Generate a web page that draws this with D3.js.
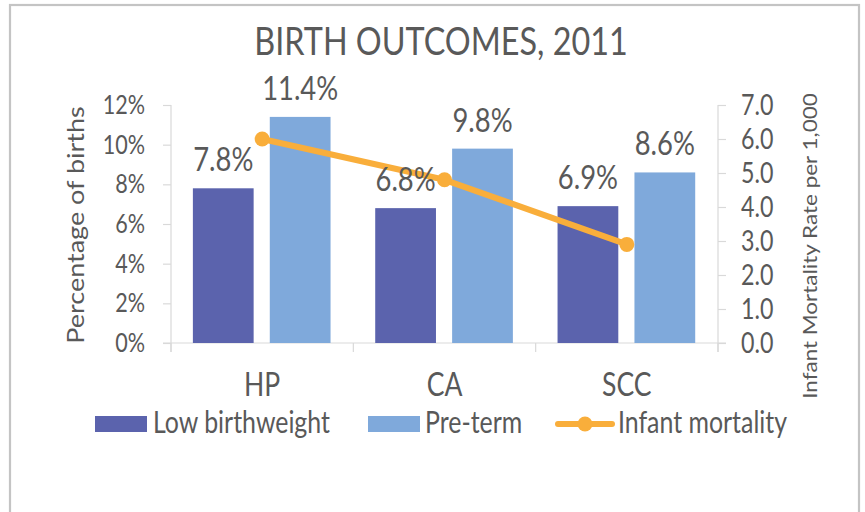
<!DOCTYPE html>
<html>
<head>
<meta charset="utf-8">
<script src="https://cdn.jsdelivr.net/npm/d3@7"></script>
<style>
  html, body { margin: 0; padding: 0; background: #fff; }
  svg { display: block; }
  text { font-family: Lato, "Noto Sans", sans-serif; fill: #595959; }
</style>
</head>
<body>
<svg id="chart" width="865" height="512"></svg>
<script>
// ---- data ----
const title = "BIRTH OUTCOMES, 2011";
const categories = ["HP", "CA", "SCC"];
const seriesNames = ["Low birthweight", "Pre-term"];
const lowBirthweight = [0.078, 0.068, 0.069];
const preTerm = [0.114, 0.098, 0.086];
const infantMortality = [6.0, 4.8, 2.9];
const lineName = "Infant mortality";
const leftTicks = [0, 0.02, 0.04, 0.06, 0.08, 0.10, 0.12];
const rightTicks = [0, 1, 2, 3, 4, 5, 6, 7];
const leftAxisTitle = "Percentage of births";
const rightAxisTitle = "Infant Mortality Rate per 1,000";

const barColors = ["#5B63AD", "#7FA9DB"];
const lineColor = "#F9AE3B";
const axisColor = "#D9D9D9";
const SX = 0.83; // horizontal compression of glyphs seen in the reference

const svg = d3.select("#chart");

// frame
svg.append("rect").attr("x", 10).attr("y", 5).attr("width", 849).attr("height", 540)
  .attr("fill", "#fff").attr("stroke", "#C4C4C4").attr("stroke-width", 2.2);

const plot = { left: 171, right: 718, top: 105, bottom: 343 };

const x = d3.scaleBand().domain(categories).range([plot.left, plot.right]).padding(0);
const xi = d3.scaleBand().domain(seriesNames)
  .range([x.bandwidth() * 0.12, x.bandwidth() * 0.875]).paddingInner(0.21);
const yL = d3.scaleLinear().domain([0, 0.12]).range([plot.bottom, plot.top]);
const yR = d3.scaleLinear().domain([0, 7]).range([plot.bottom, plot.top]);

function txt(g, s, px, py, size, anchor, rot) {
  return g.append("text")
    .attr("transform", `translate(${px},${py}) scale(${SX},1)` + (rot ? ` rotate(${rot})` : ""))
    .attr("text-anchor", anchor || "start")
    .style("font-size", size + "px")
    .text(s);
}

// title
txt(svg, title, 441, 55, 39, "middle");

// axes
const gL = svg.append("g").attr("transform", `translate(${plot.left},0)`)
  .call(d3.axisLeft(yL).tickValues(leftTicks).tickSize(8));
const gR = svg.append("g").attr("transform", `translate(${plot.right},0)`)
  .call(d3.axisRight(yR).tickValues(rightTicks).tickSize(8));
const gX = svg.append("g").attr("transform", `translate(0,${plot.bottom})`)
  .call(d3.axisBottom(x).tickValues([]).tickSizeOuter(0));

[gL, gR, gX].forEach(g => {
  g.selectAll("path.domain").attr("stroke", axisColor).attr("stroke-width", 1.2);
  g.selectAll(".tick line").attr("stroke", axisColor).attr("stroke-width", 1.2);
  g.selectAll(".tick text").remove();
});
gL.select("path.domain").attr("d", `M0,${plot.top}V${plot.bottom + 9}`);
gR.select("path.domain").attr("d", `M0,${plot.top}V${plot.bottom + 9}`);
gX.select("path.domain").attr("d", `M${plot.left - 8},0H${plot.right + 8}`);

// category boundary ticks
const bounds = categories.map(c => x(c)).concat([plot.right]);
svg.append("g").selectAll("line").data(bounds).join("line")
  .attr("x1", d => d).attr("x2", d => d)
  .attr("y1", plot.bottom).attr("y2", plot.bottom + 9)
  .attr("stroke", axisColor).attr("stroke-width", 1.2);

// tick labels
const tl = svg.append("g");
leftTicks.forEach(v => txt(tl, d3.format(".0%")(v), plot.left - 26, yL(v) + 9, 26, "end"));
rightTicks.forEach(v => txt(tl, d3.format(".1f")(v), plot.right + 23, yR(v) + 9.5, 28, "start"));

// axis titles
txt(svg, leftAxisTitle, 84, (plot.top + plot.bottom) / 2 + 1, 27, "middle", -90);
txt(svg, rightAxisTitle, 817, 246, 22.5, "middle", -90);

// bars
const barData = [lowBirthweight, preTerm];
const gb = svg.append("g");
seriesNames.forEach((s, si) => {
  gb.selectAll(null).data(categories).join("rect")
    .attr("x", c => x(c) + xi(s))
    .attr("width", xi.bandwidth())
    .attr("y", (c, i) => yL(barData[si][i]))
    .attr("height", (c, i) => plot.bottom - yL(barData[si][i]))
    .attr("fill", barColors[si]);
});

// line
const line = d3.line().x((d, i) => x(categories[i]) + x.bandwidth() / 2).y(d => yR(d));
svg.append("path").datum(infantMortality).attr("d", line)
  .attr("fill", "none").attr("stroke", lineColor).attr("stroke-width", 6).attr("stroke-linejoin", "round");
svg.append("g").selectAll("circle").data(infantMortality).join("circle")
  .attr("cx", (d, i) => x(categories[i]) + x.bandwidth() / 2)
  .attr("cy", d => yR(d)).attr("r", 7.5).attr("fill", lineColor);

// data labels (drawn above all series)
const gdl = svg.append("g");
seriesNames.forEach((s, si) => {
  categories.forEach((c, i) => {
    txt(gdl, d3.format(".1%")(barData[si][i]), x(c) + xi(s) + xi.bandwidth() / 2,
      yL(barData[si][i]) - 17, 33, "middle");
  });
});

// category labels
categories.forEach(c => txt(svg, c, x(c) + x.bandwidth() / 2, 396, 32, "middle"));

// legend
const lg = svg.append("g");
lg.append("rect").attr("x", 95).attr("y", 416).attr("width", 52).attr("height", 16).attr("fill", barColors[0]);
txt(lg, seriesNames[0], 153, 433, 30, "start");
lg.append("rect").attr("x", 368).attr("y", 416).attr("width", 52).attr("height", 16).attr("fill", barColors[1]);
txt(lg, seriesNames[1], 425, 433, 30, "start");
lg.append("line").attr("x1", 558).attr("x2", 612).attr("y1", 424).attr("y2", 424)
  .attr("stroke", lineColor).attr("stroke-width", 6).attr("stroke-linecap", "round");
lg.append("circle").attr("cx", 585).attr("cy", 424).attr("r", 7.5).attr("fill", lineColor);
txt(lg, lineName, 618, 433, 30, "start");
</script>
</body>
</html>
